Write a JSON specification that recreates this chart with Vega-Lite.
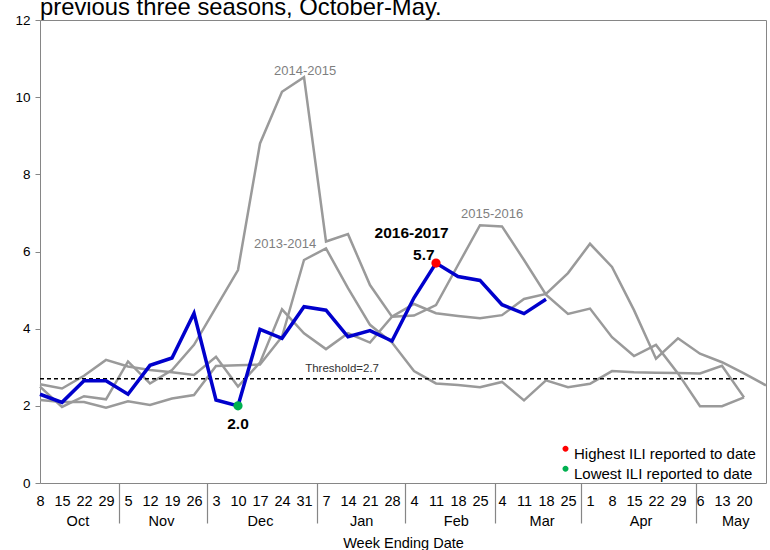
{
  "$schema": "https://vega.github.io/schema/vega-lite/v6.json",
  "width": 726,
  "height": 463,
  "autosize": {"type": "none"},
  "padding": {"left": 40, "top": 20, "right": 4, "bottom": 67},
  "background": "white",
  "config": {"font": "Liberation Sans", "view": {"stroke": "#868686", "strokeWidth": 1}},
  "title": {"text": "previous three seasons, October-May.", "anchor": "start", "fontSize": 23.8, "fontWeight": "normal", "color": "black", "offset": 2, "dy": 9, "frame": "group"},
  "datasets": {
    "ili": [
      {"season": "2013-2014", "week": 0, "ili": 2.15}, {"season": "2013-2014", "week": 1, "ili": 2.10}, {"season": "2013-2014", "week": 2, "ili": 2.10}, {"season": "2013-2014", "week": 3, "ili": 1.95}, {"season": "2013-2014", "week": 4, "ili": 2.12}, {"season": "2013-2014", "week": 5, "ili": 2.02}, {"season": "2013-2014", "week": 6, "ili": 2.19}, {"season": "2013-2014", "week": 7, "ili": 2.28}, {"season": "2013-2014", "week": 8, "ili": 3.03}, {"season": "2013-2014", "week": 9, "ili": 3.05}, {"season": "2013-2014", "week": 10, "ili": 3.07}, {"season": "2013-2014", "week": 11, "ili": 3.79}, {"season": "2013-2014", "week": 12, "ili": 5.78}, {"season": "2013-2014", "week": 13, "ili": 6.08}, {"season": "2013-2014", "week": 14, "ili": 5.05}, {"season": "2013-2014", "week": 15, "ili": 4.10}, {"season": "2013-2014", "week": 16, "ili": 3.64}, {"season": "2013-2014", "week": 17, "ili": 2.90}, {"season": "2013-2014", "week": 18, "ili": 2.58}, {"season": "2013-2014", "week": 19, "ili": 2.54}, {"season": "2013-2014", "week": 20, "ili": 2.48}, {"season": "2013-2014", "week": 21, "ili": 2.62}, {"season": "2013-2014", "week": 22, "ili": 2.14}, {"season": "2013-2014", "week": 23, "ili": 2.66}, {"season": "2013-2014", "week": 24, "ili": 2.48}, {"season": "2013-2014", "week": 25, "ili": 2.57}, {"season": "2013-2014", "week": 26, "ili": 2.90}, {"season": "2013-2014", "week": 27, "ili": 2.87}, {"season": "2013-2014", "week": 28, "ili": 2.86}, {"season": "2013-2014", "week": 29, "ili": 2.85}, {"season": "2013-2014", "week": 30, "ili": 2.84}, {"season": "2013-2014", "week": 31, "ili": 3.04}, {"season": "2013-2014", "week": 32, "ili": 2.22},
      {"season": "2014-2015", "week": 0, "ili": 2.50}, {"season": "2014-2015", "week": 1, "ili": 1.97}, {"season": "2014-2015", "week": 2, "ili": 2.25}, {"season": "2014-2015", "week": 3, "ili": 2.17}, {"season": "2014-2015", "week": 4, "ili": 3.15}, {"season": "2014-2015", "week": 5, "ili": 2.58}, {"season": "2014-2015", "week": 6, "ili": 2.93}, {"season": "2014-2015", "week": 7, "ili": 3.58}, {"season": "2014-2015", "week": 8, "ili": 4.55}, {"season": "2014-2015", "week": 9, "ili": 5.52}, {"season": "2014-2015", "week": 10, "ili": 8.80}, {"season": "2014-2015", "week": 11, "ili": 10.14}, {"season": "2014-2015", "week": 12, "ili": 10.52}, {"season": "2014-2015", "week": 13, "ili": 6.26}, {"season": "2014-2015", "week": 14, "ili": 6.45}, {"season": "2014-2015", "week": 15, "ili": 5.13}, {"season": "2014-2015", "week": 16, "ili": 4.31}, {"season": "2014-2015", "week": 17, "ili": 4.64}, {"season": "2014-2015", "week": 18, "ili": 4.40}, {"season": "2014-2015", "week": 19, "ili": 4.33}, {"season": "2014-2015", "week": 20, "ili": 4.27}, {"season": "2014-2015", "week": 21, "ili": 4.35}, {"season": "2014-2015", "week": 22, "ili": 4.77}, {"season": "2014-2015", "week": 23, "ili": 4.90}, {"season": "2014-2015", "week": 24, "ili": 5.44}, {"season": "2014-2015", "week": 25, "ili": 6.20}, {"season": "2014-2015", "week": 26, "ili": 5.60}, {"season": "2014-2015", "week": 27, "ili": 4.48}, {"season": "2014-2015", "week": 28, "ili": 3.22}, {"season": "2014-2015", "week": 29, "ili": 3.75}, {"season": "2014-2015", "week": 30, "ili": 3.35}, {"season": "2014-2015", "week": 31, "ili": 3.13}, {"season": "2014-2015", "week": 32, "ili": 2.84}, {"season": "2014-2015", "week": 33, "ili": 2.53},
      {"season": "2015-2016", "week": 0, "ili": 2.56}, {"season": "2015-2016", "week": 1, "ili": 2.45}, {"season": "2015-2016", "week": 2, "ili": 2.78}, {"season": "2015-2016", "week": 3, "ili": 3.19}, {"season": "2015-2016", "week": 4, "ili": 3.02}, {"season": "2015-2016", "week": 5, "ili": 2.93}, {"season": "2015-2016", "week": 6, "ili": 2.87}, {"season": "2015-2016", "week": 7, "ili": 2.80}, {"season": "2015-2016", "week": 8, "ili": 3.27}, {"season": "2015-2016", "week": 9, "ili": 2.50}, {"season": "2015-2016", "week": 10, "ili": 3.12}, {"season": "2015-2016", "week": 11, "ili": 4.50}, {"season": "2015-2016", "week": 12, "ili": 3.88}, {"season": "2015-2016", "week": 13, "ili": 3.47}, {"season": "2015-2016", "week": 14, "ili": 3.88}, {"season": "2015-2016", "week": 15, "ili": 3.64}, {"season": "2015-2016", "week": 16, "ili": 4.31}, {"season": "2015-2016", "week": 17, "ili": 4.34}, {"season": "2015-2016", "week": 18, "ili": 4.61}, {"season": "2015-2016", "week": 19, "ili": 5.65}, {"season": "2015-2016", "week": 20, "ili": 6.68}, {"season": "2015-2016", "week": 21, "ili": 6.65}, {"season": "2015-2016", "week": 22, "ili": 5.78}, {"season": "2015-2016", "week": 23, "ili": 4.88}, {"season": "2015-2016", "week": 24, "ili": 4.38}, {"season": "2015-2016", "week": 25, "ili": 4.52}, {"season": "2015-2016", "week": 26, "ili": 3.78}, {"season": "2015-2016", "week": 27, "ili": 3.29}, {"season": "2015-2016", "week": 28, "ili": 3.58}, {"season": "2015-2016", "week": 29, "ili": 2.84}, {"season": "2015-2016", "week": 30, "ili": 1.99}, {"season": "2015-2016", "week": 31, "ili": 1.99}, {"season": "2015-2016", "week": 32, "ili": 2.22},
      {"season": "2016-2017", "week": 0, "ili": 2.30}, {"season": "2016-2017", "week": 1, "ili": 2.09}, {"season": "2016-2017", "week": 2, "ili": 2.65}, {"season": "2016-2017", "week": 3, "ili": 2.65}, {"season": "2016-2017", "week": 4, "ili": 2.30}, {"season": "2016-2017", "week": 5, "ili": 3.05}, {"season": "2016-2017", "week": 6, "ili": 3.24}, {"season": "2016-2017", "week": 7, "ili": 4.40}, {"season": "2016-2017", "week": 8, "ili": 2.15}, {"season": "2016-2017", "week": 9, "ili": 2.00}, {"season": "2016-2017", "week": 10, "ili": 3.98}, {"season": "2016-2017", "week": 11, "ili": 3.75}, {"season": "2016-2017", "week": 12, "ili": 4.57}, {"season": "2016-2017", "week": 13, "ili": 4.48}, {"season": "2016-2017", "week": 14, "ili": 3.79}, {"season": "2016-2017", "week": 15, "ili": 3.95}, {"season": "2016-2017", "week": 16, "ili": 3.68}, {"season": "2016-2017", "week": 17, "ili": 4.80}, {"season": "2016-2017", "week": 18, "ili": 5.70}, {"season": "2016-2017", "week": 19, "ili": 5.35}, {"season": "2016-2017", "week": 20, "ili": 5.25}, {"season": "2016-2017", "week": 21, "ili": 4.62}, {"season": "2016-2017", "week": 22, "ili": 4.39}, {"season": "2016-2017", "week": 23, "ili": 4.76}
    ]
  },
  "layer": [
    {
      "data": {"name": "ili"},
      "transform": [{"filter": "datum.season != '2016-2017'"}],
      "mark": {"type": "line", "color": "#9a9a9a", "strokeWidth": 2.5},
      "encoding": {
        "x": {"field": "week", "type": "quantitative", "scale": {"domain": [0, 33], "nice": false, "zero": false},
          "axis": {"orient": "bottom", "values": [0,1,2,3,4,5,6,7,8,9,10,11,12,13,14,15,16,17,18,19,20,21,22,23,24,25,26,27,28,29,30,31,32],
            "labelExpr": "['8','15','22','29','5','12','19','26','3','10','17','24','31','7','14','21','28','4','11','18','25','4','11','18','25','1','8','15','22','29','6','13','20'][datum.value]",
            "ticks": false, "tickSize": 0, "domain": false, "grid": false, "labelFontSize": 14.5, "labelColor": "black", "labelPadding": 11,
            "labelOverlap": false, "labelFlush": false, "labelBound": false, "title": null}},
        "y": {"field": "ili", "type": "quantitative", "scale": {"domain": [0, 12], "nice": false},
          "axis": {"orient": "left", "values": [0,2,4,6,8,10,12], "tickSize": 5, "tickColor": "#868686", "domain": false, "grid": false, "labelFontSize": 13.5, "labelColor": "black", "labelPadding": 5, "title": null}},
        "detail": {"field": "season"}
      }
    },
    {
      "data": {"values": [{"week": 0, "week_end": 32, "ili": 2.7}]},
      "mark": {"type": "rule", "color": "black", "strokeWidth": 1.5, "strokeDash": [4, 3]},
      "encoding": {
        "x": {"field": "week", "type": "quantitative", "scale": {"domain": [0, 33], "nice": false, "zero": false},
          "axis": {"orient": "bottom", "values": [3.6, 7.6, 12.6, 16.6, 20.7, 24.6, 29.8], "labels": false, "ticks": true, "tickSize": 40, "tickColor": "#868686", "tickWidth": 1.2, "domain": false, "grid": false, "title": null}},
        "x2": {"field": "week_end"},
        "y": {"field": "ili", "type": "quantitative", "scale": {"domain": [0, 12], "nice": false},
          "axis": {"orient": "left", "values": [0,2,4,6,8,10,12], "tickSize": 5, "tickColor": "#868686", "domain": false, "grid": false, "labelFontSize": 13.5, "labelColor": "black", "labelPadding": 5, "title": null}}
      }
    },
    {
      "data": {"name": "ili"},
      "transform": [{"filter": "datum.season == '2016-2017'"}],
      "mark": {"type": "line", "color": "#0000CC", "strokeWidth": 3.5},
      "encoding": {
        "x": {"field": "week", "type": "quantitative", "scale": {"domain": [0, 33], "nice": false, "zero": false},
          "axis": {"orient": "bottom", "values": [1.7, 5.5, 10, 14.6, 18.9, 22.8, 27.3, 31.6],
            "labelExpr": "datum.value < 3 ? 'Oct' : datum.value < 7 ? 'Nov' : datum.value < 12 ? 'Dec' : datum.value < 16 ? 'Jan' : datum.value < 20 ? 'Feb' : datum.value < 24 ? 'Mar' : datum.value < 29 ? 'Apr' : 'May'",
            "ticks": false, "tickSize": 0, "domain": false, "grid": false, "labelFontSize": 14.5, "labelColor": "black", "labelPadding": 31,
            "labelOverlap": false, "labelFlush": false, "labelBound": false,
            "title": "Week Ending Date", "titleFontSize": 14.5, "titleFontWeight": "normal", "titleColor": "black", "titlePadding": 9}},
        "y": {"field": "ili", "type": "quantitative", "scale": {"domain": [0, 12], "nice": false},
          "axis": {"orient": "left", "values": [0,2,4,6,8,10,12], "tickSize": 5, "tickColor": "#868686", "domain": false, "grid": false, "labelFontSize": 13.5, "labelColor": "black", "labelPadding": 5, "title": null}}
      }
    },
    {
      "data": {"values": [
        {"kind": "Highest ILI reported to date", "week": 18, "ili": 5.7},
        {"kind": "Lowest ILI reported to date", "week": 9, "ili": 2.0}
      ]},
      "mark": {"type": "circle", "size": 85, "opacity": 1},
      "encoding": {
        "x": {"field": "week", "type": "quantitative", "scale": {"domain": [0, 33], "nice": false, "zero": false}, "axis": null},
        "y": {"field": "ili", "type": "quantitative", "scale": {"domain": [0, 12], "nice": false},
          "axis": {"orient": "left", "values": [0,2,4,6,8,10,12], "tickSize": 5, "tickColor": "#868686", "domain": false, "grid": false, "labelFontSize": 13.5, "labelColor": "black", "labelPadding": 5, "title": null}},
        "color": {"field": "kind", "type": "nominal",
          "scale": {"domain": ["Highest ILI reported to date", "Lowest ILI reported to date"], "range": ["#FF0000", "#00B050"]},
          "legend": {"orient": "none", "legendX": 518, "legendY": 426, "title": null, "labelFontSize": 15, "labelColor": "black", "labelLimit": 400,
            "symbolType": "M -1,-1.6 A 1,1 0 1,1 1,-1.6 A 1,1 0 1,1 -1,-1.6 Z", "symbolSize": 36, "symbolStrokeWidth": 0,
            "rowPadding": 3, "labelOffset": 1, "padding": 0}}
      }
    },
    {
      "data": {"values": [
        {"label": "2014-2015", "week": 12.05, "ili": 10.68},
        {"label": "2013-2014", "week": 11.14, "ili": 6.19},
        {"label": "2015-2016", "week": 20.55, "ili": 6.97}
      ]},
      "mark": {"type": "text", "fontSize": 13, "color": "#7f7f7f", "align": "center", "baseline": "middle"},
      "encoding": {
        "x": {"field": "week", "type": "quantitative", "scale": {"domain": [0, 33], "nice": false, "zero": false}, "axis": null},
        "y": {"field": "ili", "type": "quantitative", "scale": {"domain": [0, 12], "nice": false},
          "axis": {"orient": "left", "values": [0,2,4,6,8,10,12], "tickSize": 5, "tickColor": "#868686", "domain": false, "grid": false, "labelFontSize": 13.5, "labelColor": "black", "labelPadding": 5, "title": null}},
        "text": {"field": "label"}
      }
    },
    {
      "data": {"values": [
        {"label": "2016-2017", "week": 16.89, "ili": 6.48},
        {"label": "5.7", "week": 17.45, "ili": 5.91},
        {"label": "2.0", "week": 9.0, "ili": 1.53}
      ]},
      "mark": {"type": "text", "fontSize": 15.5, "fontWeight": "bold", "color": "black", "align": "center", "baseline": "middle"},
      "encoding": {
        "x": {"field": "week", "type": "quantitative", "scale": {"domain": [0, 33], "nice": false, "zero": false}, "axis": null},
        "y": {"field": "ili", "type": "quantitative", "scale": {"domain": [0, 12], "nice": false},
          "axis": {"orient": "left", "values": [0,2,4,6,8,10,12], "tickSize": 5, "tickColor": "#868686", "domain": false, "grid": false, "labelFontSize": 13.5, "labelColor": "black", "labelPadding": 5, "title": null}},
        "text": {"field": "label"}
      }
    },
    {
      "data": {"values": [{"label": "Threshold=2.7", "week": 13.73, "ili": 2.95}]},
      "mark": {"type": "text", "fontSize": 11.5, "color": "#333333", "align": "center", "baseline": "middle"},
      "encoding": {
        "x": {"field": "week", "type": "quantitative", "scale": {"domain": [0, 33], "nice": false, "zero": false}, "axis": null},
        "y": {"field": "ili", "type": "quantitative", "scale": {"domain": [0, 12], "nice": false},
          "axis": {"orient": "left", "values": [0,2,4,6,8,10,12], "tickSize": 5, "tickColor": "#868686", "domain": false, "grid": false, "labelFontSize": 13.5, "labelColor": "black", "labelPadding": 5, "title": null}},
        "text": {"field": "label"}
      }
    }
  ],
  "resolve": {"axis": {"x": "independent"}}
}
